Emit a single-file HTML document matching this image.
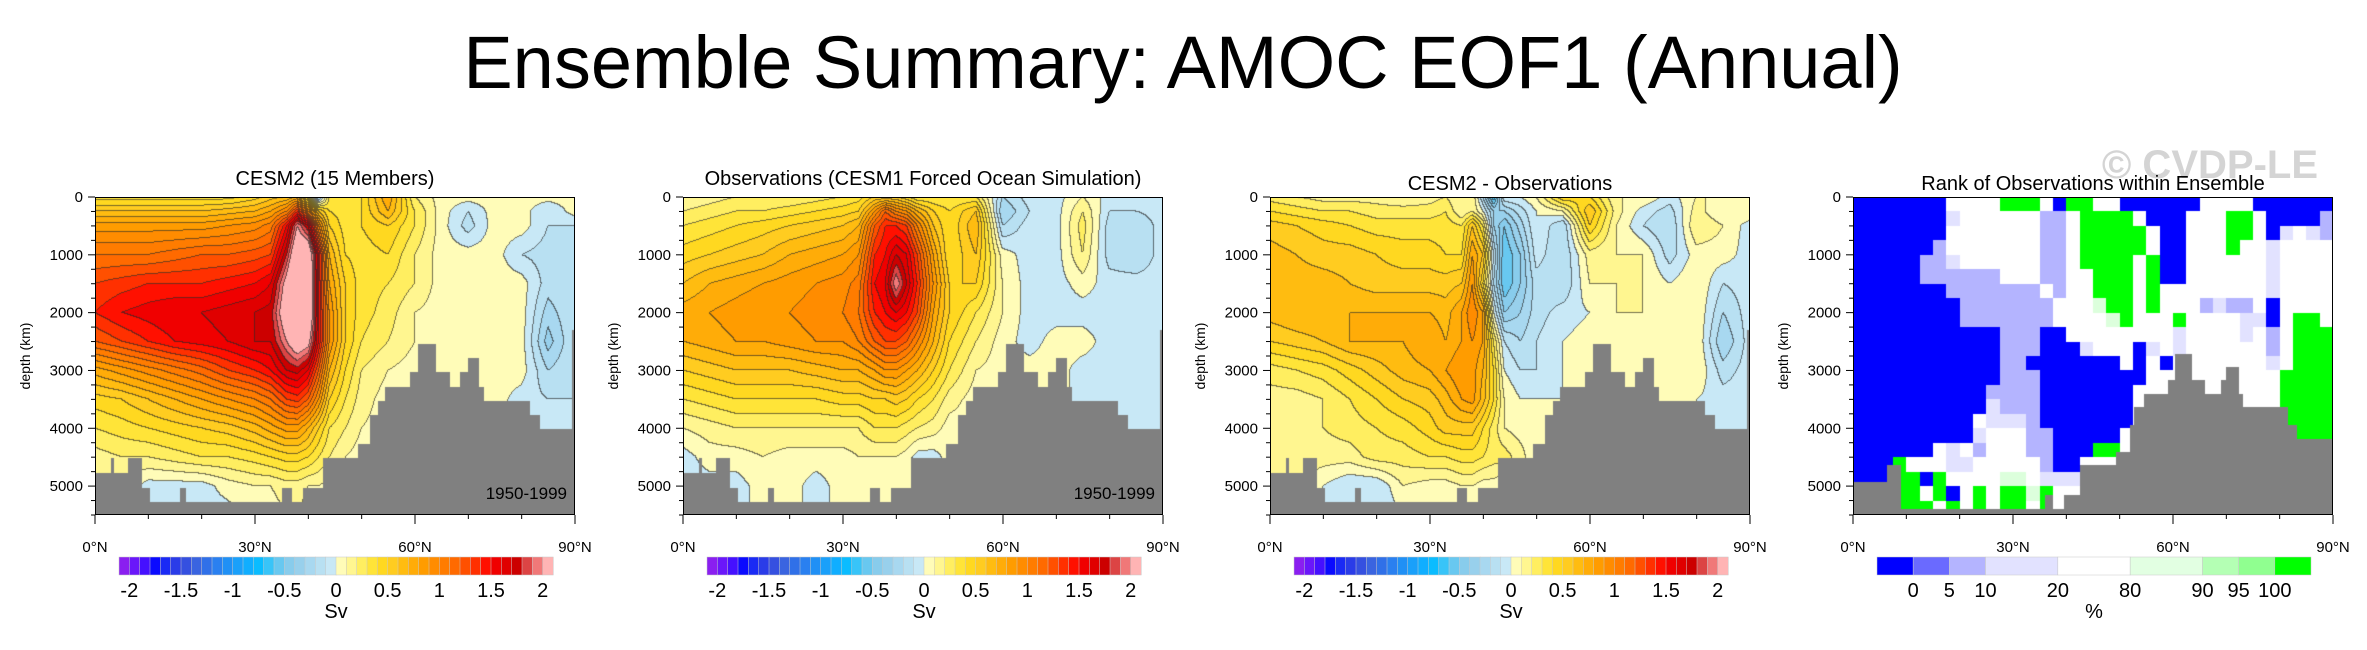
<!DOCTYPE html>
<html><head><meta charset="utf-8">
<style>
html,body{margin:0;padding:0;background:#fff;}
#wrap{position:relative;width:2367px;height:650px;overflow:hidden;background:#fff;font-family:"Liberation Sans",Arial,sans-serif;}
canvas{position:absolute;}
svg{position:absolute;left:0;top:0;}
</style></head>
<body>
<div id="wrap">
<canvas id="c1" width="480" height="318" style="left:95px;top:197px"></canvas>
<canvas id="c2" width="480" height="318" style="left:683px;top:197px"></canvas>
<canvas id="c3" width="480" height="318" style="left:1270px;top:197px"></canvas>
<canvas id="c4" width="480" height="318" style="left:1853px;top:197px"></canvas>
<svg id="ov" width="2367" height="650"></svg>
</div>
<script>
// ---- data ----
const lats = [0,5,10,15,20,25,30,33,36,38,40,42,44,47,50,55,60,65,70,75,80,85,90];
const depths = [0,250,500,1000,1500,2000,2500,3000,3500,4000,4500,5000,5500];
const cesm2Field = [
[0.35,0.35,0.35,0.35,0.35,0.35,0.45,0.55,0.6,0.7,0.3,-0.3,0.3,0.3,0.4,0.8,0.2,0.05,0.05,0.05,0.05,0.05,0.05],
[0.6,0.6,0.6,0.6,0.6,0.65,0.7,0.8,1.0,1.4,1.0,0.6,0.4,0.35,0.4,0.7,0.3,0.05,-0.1,0.05,0.05,-0.1,0.05],
[0.85,0.85,0.85,0.85,0.85,0.9,0.95,1.05,1.5,2.0,1.7,1.0,0.5,0.35,0.4,0.5,0.3,0.05,-0.15,0.05,0.05,-0.1,-0.1],
[1.1,1.1,1.1,1.15,1.2,1.2,1.25,1.3,1.8,2.3,2.3,1.5,0.7,0.4,0.35,0.4,0.2,0.05,0.05,0.05,-0.1,-0.15,-0.1],
[1.3,1.35,1.4,1.4,1.4,1.45,1.5,1.6,2.1,2.5,2.4,1.5,0.8,0.5,0.35,0.3,0.2,0.05,0.05,0.05,0.05,-0.15,-0.1],
[1.4,1.5,1.55,1.6,1.6,1.65,1.7,1.75,2.2,2.5,2.4,1.5,0.9,0.5,0.35,0.25,0.1,0.05,0.05,0.05,0.05,-0.25,-0.1],
[1.2,1.3,1.4,1.5,1.55,1.6,1.7,1.7,2.0,2.2,2.1,1.5,0.9,0.5,0.3,0.2,0.1,0.05,0.05,0.05,0.05,-0.35,-0.1],
[0.75,0.85,0.95,1.05,1.15,1.3,1.4,1.5,1.7,1.75,1.6,1.2,0.7,0.4,0.2,0.1,0.05,0.05,0.05,0.05,0.05,-0.2,-0.1],
[0.45,0.5,0.6,0.7,0.8,0.9,1.0,1.1,1.3,1.35,1.2,0.9,0.5,0.3,0.15,0.05,0.05,0.05,0.05,0.05,-0.05,-0.1,-0.1],
[0.3,0.35,0.4,0.45,0.5,0.55,0.65,0.75,0.85,0.85,0.7,0.5,0.3,0.2,0.1,0.05,0.05,0.05,0.05,0.05,-0.05,-0.1,-0.1],
[0.15,0.2,0.2,0.25,0.3,0.3,0.35,0.4,0.45,0.45,0.4,0.3,0.2,0.1,0.05,0.05,0.05,0.05,0.05,0.05,0.05,0.05,0.05],
[0.1,0.1,-0.05,-0.05,-0.05,0.05,0.1,0.1,0.15,0.15,0.1,0.1,0.05,0.05,0.05,0.05,0.05,0.05,0.05,0.05,0.05,0.05,0.05],
[0.05,0.05,-0.05,-0.05,-0.05,-0.05,0.05,0.05,0.1,0.1,0.05,0.05,0.05,0.05,0.05,0.05,0.05,0.05,0.05,0.05,0.05,0.05,0.05]
];
const obsField = [
[0.1,0.15,0.2,0.2,0.2,0.25,0.3,0.35,0.5,0.5,0.5,0.4,0.3,0.3,0.3,0.3,-0.2,-0.05,-0.05,0.1,-0.05,-0.05,-0.05],
[0.2,0.25,0.3,0.3,0.35,0.4,0.45,0.5,0.9,1.2,1.0,0.9,0.7,0.5,0.4,0.6,-0.3,-0.1,-0.05,0.2,-0.1,-0.1,-0.05],
[0.3,0.35,0.4,0.45,0.5,0.55,0.6,0.7,1.2,1.4,1.4,1.3,1.0,0.6,0.4,0.7,-0.2,-0.05,-0.05,0.25,-0.15,-0.2,-0.05],
[0.45,0.5,0.55,0.6,0.7,0.75,0.8,0.9,1.4,1.5,1.7,1.6,1.3,0.8,0.4,0.6,0.05,-0.05,-0.05,0.2,-0.15,-0.2,-0.05],
[0.6,0.7,0.75,0.8,0.85,0.9,0.95,1.05,1.5,1.6,2.0,1.7,1.4,0.9,0.5,0.5,0.1,-0.05,-0.05,0.05,-0.05,-0.05,-0.05],
[0.75,0.8,0.85,0.9,0.9,0.95,1.0,1.1,1.4,1.5,1.6,1.5,1.3,0.8,0.5,0.3,0.1,-0.05,-0.05,-0.05,-0.05,-0.05,-0.05],
[0.7,0.75,0.8,0.8,0.85,0.9,0.9,1.0,1.2,1.3,1.3,1.2,1.0,0.7,0.4,0.2,0.05,-0.05,0.05,0.05,-0.05,-0.05,-0.05],
[0.5,0.55,0.6,0.6,0.6,0.65,0.7,0.7,0.8,0.9,0.9,0.8,0.7,0.5,0.3,0.1,0.05,0.05,0.05,-0.05,-0.05,-0.05,-0.05],
[0.3,0.35,0.4,0.4,0.4,0.4,0.45,0.45,0.5,0.5,0.55,0.5,0.4,0.3,0.15,0.05,0.05,0.05,0.05,-0.05,-0.05,-0.05,-0.05],
[0.1,0.15,0.2,0.2,0.2,0.2,0.2,0.2,0.3,0.3,0.3,0.25,0.2,0.15,0.05,0.05,0.05,0.05,0.05,-0.05,-0.05,-0.05,-0.05],
[-0.05,0.05,0.05,0.1,0.05,0.05,0.05,0.1,0.1,0.1,0.1,0.05,-0.05,-0.05,0.05,0.05,0.05,0.05,0.05,-0.05,-0.05,-0.05,-0.05],
[-0.05,-0.05,-0.05,0.05,0.05,-0.05,0.05,0.05,0.05,0.05,0.05,0.05,0.05,0.05,0.05,0.05,0.05,0.05,0.05,0.05,0.05,0.05,0.05],
[-0.05,-0.05,-0.05,0.05,0.05,-0.05,0.05,0.05,0.05,0.05,0.05,0.05,0.05,0.05,0.05,0.05,0.05,0.05,0.05,0.05,0.05,0.05,0.05]
];
// bathymetry (start latitude of step, ocean floor depth in m)
const bathyLat = [0,3,3.5,6.2,8.9,10.4,16,17,35,37,39,42.8,49.4,51.5,53,54.3,59,60.5,64,66.5,68.5,70,72,73,81.5,83.5,89.5];
const bathyDep = [4780,4520,4780,4520,5040,5270,5040,5270,5040,5270,5040,4520,4270,3770,3520,3280,3020,2550,3020,3280,3020,2790,3280,3520,3770,4020,2300];
const rankBathyLat = [0,6.4,9,36,37.5,39.6,42.6,46.3,49.3,52,52.7,54.5,59,60.3,63.5,66,69,70,72.3,73.2,81.5,83.3];
const rankBathyDep = [4930,4640,5390,5160,5390,5160,4640,4640,4410,3950,3630,3400,3170,2710,3170,3400,3170,2940,3400,3630,3950,4180];
// rank categories: 2.5 deg columns x 250 m rows
const rankRows = [
"BBBBBBBWWWWGGGWBGGWWBBBBBBWWWWBBBBBB",
"BBBBBBBVWWWWWWLLWGGGGWBBBWWWGGWBBBBL",
"BBBBBBBWWWWWWWLLWGGGGGWBBWWWGGWBVWVL",
"BBBBBBLWWWWWWWLLWGGGGGWBBWWWGWWVWWWW",
"BBBBBLLVWWWWWWLLWGGGGWGBBWWWWWWVWWWW",
"BBBBBLLLLLLWWWLLWWGGGWGBBWWWWWWVWWWW",
"BBBBBBBLLLLLLLWLWWGGGWGWWWWWWWWVWWWW",
"BBBBBBBBLLLLLLLWWWPGGWGWWWLVLLWBWWWW",
"BBBBBBBBLLLLLLLWWWWPGWWWGWWWWVVBWGGW",
"BBBBBBBBBBBLLLBBWWWWWWWWVWWWWVWLWGGG",
"BBBBBBBBBBBLLLBBBVWWWBVWVWWWWWWLWGGG",
"BBBBBBBBBBBLLBBBBBBBWBWBWWWWWWWVWGGG",
"BBBBBBBBBBBLLLBBBBBBBBWWWWWWWWWWGGGG",
"BBBBBBBBBBLLLLBBBBBBBWWWWWWWWWWWGGGG",
"BBBBBBBBBBVLLLBBBBBBBWWWWWWWWWWWGGGG",
"BBBBBBBBBWVVVLBBBBBBBWWWWWWWWWWWGGGG",
"BBBBBBBBBVWWWLLBBBBBWWWWWWWWWWWWWGGG",
"BBBBBBWVWLWWWLLBBBGGWWWWWWWWWWWWWWWW",
"BBBGWWWVVWWWWWLBBWWWWWWWWWWWWWWWWWWW",
"BBBGGBGWWWWPPWVVVWWWWWWWWWWWWWWWWWWW",
"BBBGGWGBWGWGGPGWWWWWWWWWWWWWWWWWWWWW",
"BBBGGGWGWGWGGWGWWWWWWWWWWWWWWWWWWWWW"
];
const rankCatColor = {B:'#0000ff',M:'#6a6aff',L:'#b4b4ff',V:'#e2e2ff',W:'#ffffff',P:'#dcffdc',G:'#00ff00'};
const svLevels = [-2,-1.5,-1,-0.5,0,0.5,1,1.5,2];
const svTickText = ['-2','-1.5','-1','-0.5','0','0.5','1','1.5','2'];
const rankLabels = ['0','5','10','20','80','90','95','100'];
const latTicks = [0,30,60,90];
const latTickText = ['0°N','30°N','60°N','90°N'];
const depthTicks = [0,1000,2000,3000,4000,5000];
const panelTitles = ['CESM2 (15 Members)','Observations (CESM1 Forced Ocean Simulation)','CESM2 - Observations','Rank of Observations within Ensemble'];

// ---- styling constants ----
const svColors = ['#8a1ff0','#6a17fa','#4510ff','#0a0aff','#1a2af5','#2a3ce8','#3550e0','#3a64e0','#3070e8','#2a80f0','#2090f5','#1aa0fa','#10aeff','#0abcff','#38c4f8','#68c8f0','#88ccec','#98d0ec','#a8d8f0','#b8e0f2','#c8e8f6',
 '#fffcb8','#fff690','#ffee60','#ffe438','#ffd820','#ffcc20','#ffbc10','#ffac08','#ff9c00','#ff8c00','#ff7c00','#ff6a00','#ff5000','#ff3000','#ff1000','#f00000','#e00000','#cc0000','#dc4444','#f07878','#ffb4b4'];
const rankBarColors = ['#0000ff','#6a6aff','#b4b4ff','#e2e2ff','#ffffff','#e2ffe2','#b4ffb4','#90ff90','#00ff00'];
const rankBarWeights = [1,1,1,2,2,2,1,1,1];
const PX = [95,683,1270,1853], PT = 197, PW = 480, PH = 318, DMAX = 5500;

function xScale(lat){return lat/90*PW;}
function yScale(d){return d/DMAX*PH;}
function latOf(px){return px/PW*90;}
function depOf(py){return py/PH*DMAX;}
function idx(arr,v){for(let i=0;i<arr.length-1;i++){if(v<=arr[i+1])return i;}return arr.length-2;}
function sample(field,lat,dep){
  const i=idx(lats,lat), j=idx(depths,dep);
  const tx=Math.min(1,Math.max(0,(lat-lats[i])/(lats[i+1]-lats[i])));
  const ty=Math.min(1,Math.max(0,(dep-depths[j])/(depths[j+1]-depths[j])));
  const a=field[j][i],b=field[j][i+1],c=field[j+1][i],d=field[j+1][i+1];
  return (a*(1-tx)+b*tx)*(1-ty)+(c*(1-tx)+d*tx)*ty;
}
function hex(h){return [parseInt(h.substr(1,2),16),parseInt(h.substr(3,2),16),parseInt(h.substr(5,2),16)];}
const svRGB = svColors.map(hex);
function level(v){let l=Math.floor((v+2.1)/0.1+1e-6);return Math.max(0,Math.min(41,l));}

function drawField(cid,fn){
  const c=document.getElementById(cid),ctx=c.getContext('2d');
  const img=ctx.createImageData(PW,PH),L=new Int16Array(PW*PH);
  for(let y=0;y<PH;y++)for(let x=0;x<PW;x++){L[y*PW+x]=level(fn(latOf(x+0.5),depOf(y+0.5)));}
  for(let y=0;y<PH;y++)for(let x=0;x<PW;x++){
    const k=y*PW+x,l=L[k];let col=svRGB[l].slice();
    const edge=(x<PW-1&&L[k+1]!==l)||(y<PH-1&&L[k+PW]!==l);
    if(edge){col=col.map(v=>Math.round(v*0.35+40*0.65));}
    img.data[k*4]=col[0];img.data[k*4+1]=col[1];img.data[k*4+2]=col[2];img.data[k*4+3]=255;
  }
  ctx.putImageData(img,0,0);
  drawBathy(ctx,bathyLat,bathyDep);
}
function drawBathy(ctx,bl,bd){
  ctx.fillStyle='#808080';
  for(let i=0;i<bl.length;i++){
    const x0=xScale(bl[i]),x1=xScale(i<bl.length-1?bl[i+1]:90);
    const y0=yScale(bd[i]);
    ctx.fillRect(Math.round(x0),Math.round(y0),Math.round(x1)-Math.round(x0),PH-Math.round(y0));
  }
}
drawField('c1',(la,d)=>sample(cesm2Field,la,d));
drawField('c2',(la,d)=>sample(obsField,la,d));
drawField('c3',(la,d)=>sample(cesm2Field,la,d)-sample(obsField,la,d));
(function(){
  const ctx=document.getElementById('c4').getContext('2d');
  ctx.fillStyle='#fff';ctx.fillRect(0,0,PW,PH);
  for(let j=0;j<rankRows.length;j++){
    for(let i=0;i<rankRows[j].length;i++){
      ctx.fillStyle=rankCatColor[rankRows[j][i]];
      const x0=Math.round(xScale(i*2.5)),x1=Math.round(xScale((i+1)*2.5));
      const y0=Math.round(yScale(j*250)),y1=Math.round(yScale((j+1)*250));
      ctx.fillRect(x0,y0,x1-x0,y1-y0);
    }
  }
  drawBathy(ctx,rankBathyLat,rankBathyDep);
})();

// ---- SVG overlay ----
const NS='http://www.w3.org/2000/svg',ov=document.getElementById('ov');
function el(tag,attrs,parent){const e=document.createElementNS(NS,tag);for(const k in attrs)e.setAttribute(k,attrs[k]);(parent||ov).appendChild(e);return e;}
function txt(s,attrs,parent){const e=el('text',attrs,parent);e.textContent=s;return e;}

let t=txt('Ensemble Summary: AMOC EOF1 (Annual)',{x:1183,y:88,'font-size':74,'text-anchor':'middle',fill:'#000','font-family':'Liberation Sans, sans-serif'});


t=txt('© CVDP-LE',{x:2318,y:178,'font-size':40,'text-anchor':'end',fill:'#d4d4d4','font-weight':'bold','font-family':'Liberation Sans, sans-serif'});



for(let p=0;p<4;p++){
  const X=PX[p];
  const g=el('g',{});
  
  
  t=txt(panelTitles[p],{x:X+PW/2,y:(p<2?185:190),'font-size':20,'text-anchor':'middle','font-family':'Liberation Sans, sans-serif'},g);
  
  
  const fr=el('rect',{x:X+0.5,y:PT+0.5,width:PW-1,height:PH-1,fill:'none',stroke:'#000','stroke-width':1},g);
  
  
  for(let d=0;d<=DMAX;d+=250){
    const y=PT+yScale(d);const major=d%1000===0;
    el('line',{x1:X,x2:X-(major?7:4),y1:y,y2:y,stroke:'#000','stroke-width':1},g);
  }
  for(let k=0;k<depthTicks.length;k++){
    t=txt(String(depthTicks[k]),{x:X-12,y:PT+yScale(depthTicks[k])+5,'font-size':15,'text-anchor':'end','font-family':'Liberation Sans, sans-serif'},g);
    
    
  }
  t=txt('depth (km)',{x:0,y:0,'font-size':14,'text-anchor':'middle','font-family':'Liberation Sans, sans-serif',transform:'translate('+(X-65)+','+(PT+PH/2)+') rotate(-90)'},g);
  
  
  for(let la=0;la<=90;la+=10){
    const x=X+xScale(la);const major=la%30===0;
    el('line',{x1:x,x2:x,y1:PT+PH,y2:PT+PH+(major?9:4),stroke:'#000','stroke-width':1},g);
  }
  for(let k=0;k<latTicks.length;k++){
    t=txt(latTickText[k],{x:X+xScale(latTicks[k]),y:552,'font-size':15,'text-anchor':'middle','font-family':'Liberation Sans, sans-serif'},g);
    
    
  }
  if(p<2){
    t=txt('1950-1999',{x:X+PW-8,y:PT+PH-16,'font-size':17,'text-anchor':'end','font-family':'Liberation Sans, sans-serif'},g);
    
    
  }
  const cb=el('g',{},g);
  
  
  const cbx=X+24,cbw=434,cby=557,cbh=18;
  if(p<3){
    const bw=cbw/svColors.length;
    for(let i=0;i<svColors.length;i++){
      el('rect',{x:cbx+i*bw,y:cby,width:bw+0.3,height:cbh,fill:svColors[i],stroke:'#c8c8c8','stroke-width':0.5},cb);
    }
    for(let k=0;k<svLevels.length;k++){
      const x=cbx+(svLevels[k]+2.1)/4.2*cbw;
      t=txt(svTickText[k],{x:x,y:597,'font-size':20,'text-anchor':'middle','font-family':'Liberation Sans, sans-serif'},cb);
      
      
    }
    t=txt('Sv',{x:cbx+cbw/2,y:618,'font-size':20,'text-anchor':'middle','font-family':'Liberation Sans, sans-serif'},cb);
    
    
  } else {
    const tot=rankBarWeights.reduce((a,b)=>a+b,0);let acc=0;const bounds=[];
    for(let i=0;i<rankBarColors.length;i++){
      const x0=cbx+acc/tot*cbw;acc+=rankBarWeights[i];const x1=cbx+acc/tot*cbw;
      el('rect',{x:x0,y:cby,width:x1-x0,height:cbh,fill:rankBarColors[i],stroke:'#c8c8c8','stroke-width':0.5},cb);
      if(i<rankBarColors.length-1)bounds.push(x1);
    }
    for(let k=0;k<rankLabels.length;k++){
      t=txt(rankLabels[k],{x:bounds[k],y:597,'font-size':20,'text-anchor':'middle','font-family':'Liberation Sans, sans-serif'},cb);
      
      
    }
    t=txt('%',{x:cbx+cbw/2,y:618,'font-size':20,'text-anchor':'middle','font-family':'Liberation Sans, sans-serif'},cb);
    
    
  }
}
</script>
</body></html>
